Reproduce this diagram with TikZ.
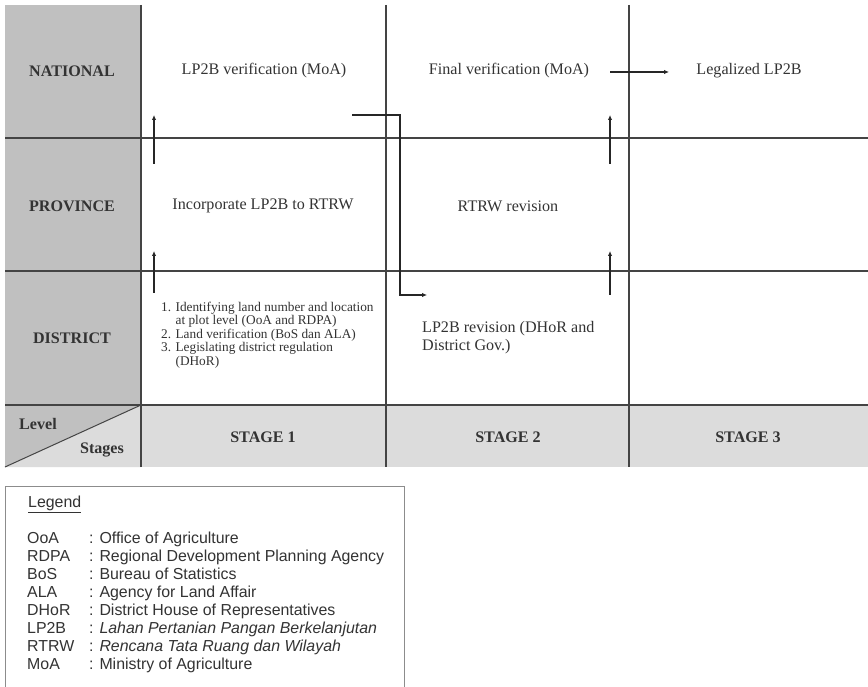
\documentclass[tikz,border=0pt]{standalone}
\usepackage{fontspec}
\setmainfont{Liberation Serif}
\newfontfamily\legfont{Liberation Sans}
\usetikzlibrary{arrows.meta}
\definecolor{dgray}{HTML}{C0C0C0}
\definecolor{lgray}{HTML}{DCDCDC}
\definecolor{ink}{HTML}{333333}
\definecolor{rulec}{HTML}{444444}
\tikzset{
  gridline/.style={draw=rulec,line width=1.3pt},
  cell/.style={font=\fontsize{16.1}{18}\selectfont, text=ink, inner sep=0pt},
  hdr/.style={font=\fontsize{16.1}{18}\selectfont\bfseries, text=ink, inner sep=0pt},
  small/.style={font=\fontsize{13.3}{13.6}\selectfont, text=ink, inner sep=0pt, align=left, anchor=north west},
  flow/.style={draw=black!85, line width=1.2pt, -{Latex[length=5pt,width=4.5pt]}},
  legtxt/.style={font=\legfont\fontsize{15.9}{18}\selectfont, text=ink, inner sep=0pt, anchor=mid west},
}
\begin{document}
\begin{tikzpicture}[x=1pt,y=-1pt]
\useasboundingbox (0,0) rectangle (868,687);
\fill[white] (0,0) rectangle (868,687);
% fills
\fill[dgray] (5,5) rectangle (141,405);
\fill[lgray] (141,405) rectangle (868,467);
\fill[dgray] (5,405) -- (141,405) -- (5,467) -- cycle;
\fill[lgray] (141,405) -- (141,467) -- (5,467) -- cycle;
\draw[draw=rulec,line width=1pt] (5,467) -- (141,405);
% grid
\foreach \xx in {141,386,629} \draw[gridline] (\xx,5) -- (\xx,467);
\foreach \yy in {138,271,405} \draw[gridline] (5,\yy) -- (868,\yy);
% row labels
\node[hdr] (nat) at (72,71) {NATIONAL};
\node[hdr] (prov) at (72,206) {PROVINCE};
\node[hdr] (dist) at (72,338) {DISTRICT};
\node[hdr] (lvl) at (38,424) {Level};
\node[hdr] (stg) at (102,450) {Stages};
\node[hdr] (s1) at (263,437) {STAGE 1};
\node[hdr] (s2) at (508,437) {STAGE 2};
\node[hdr] (s3) at (748,437) {STAGE 3};
% cells
\node[cell] (ver) at (264,71) {LP2B verification (MoA)};
\node[cell] (inc) at (263,206) {Incorporate LP2B to RTRW};
\node[cell] (fin) at (509,71) {Final verification (MoA)};
\node[cell] (leg) at (749,71) {Legalized LP2B};
\node[cell] (rtrw) at (508,206) {RTRW revision};
\node[small] (list) at (161,301.5) {1. Identifying land number and location\\
\phantom{1. }at plot level (OoA and RDPA)\\
2. Land verification (BoS dan ALA)\\
3. Legislating district regulation\\
\phantom{3. }(DHoR)};
\node[cell, align=left, anchor=north west] (rev) at (422,321.5) {LP2B revision (DHoR and\\District Gov.)};
% arrows
\coordinate (a1s) at (154,293); \coordinate (a1e) at (154,251);
\coordinate (a2s) at (154,164); \coordinate (a2e) at (154,115);
\coordinate (b1s) at (610,295); \coordinate (b1e) at (610,251);
\coordinate (b2s) at (610,164); \coordinate (b2e) at (610,115);
\coordinate (hs) at (610,72); \coordinate (he) at (669,72);
\coordinate (es) at (352,115); \coordinate (ec) at (400,295); \coordinate (ee) at (427,295);
\draw[flow] (a1s) -- (a1e);
\draw[flow] (a2s) -- (a2e);
\draw[flow] (b1s) -- (b1e);
\draw[flow] (b2s) -- (b2e);
\draw[flow] (hs) -- (he);
\draw[flow] (es) -| (ec) -- (ee);
% legend
\draw[draw=black!45, line width=1pt] (5,486) rectangle (404,700);
\node[legtxt] (lh) at (28,505) {\underline{Legend}};
\foreach \ab/\tx/\yy [count=\i] in {OoA/Office of Agriculture/541,
  RDPA/Regional Development Planning Agency/559,
  BoS/Bureau of Statistics/577,
  ALA/Agency for Land Affair/595,
  DHoR/District House of Representatives/613,
  LP2B/\textit{Lahan Pertanian Pangan Berkelanjutan}/631,
  RTRW/\textit{Rencana Tata Ruang dan Wilayah}/649,
  MoA/Ministry of Agriculture/667}{
  \node[legtxt] (ab\i) at (27,\yy) {\ab};
  \node[legtxt] (df\i) at (89,\yy) {: \tx};
}
\end{tikzpicture}
\end{document}
